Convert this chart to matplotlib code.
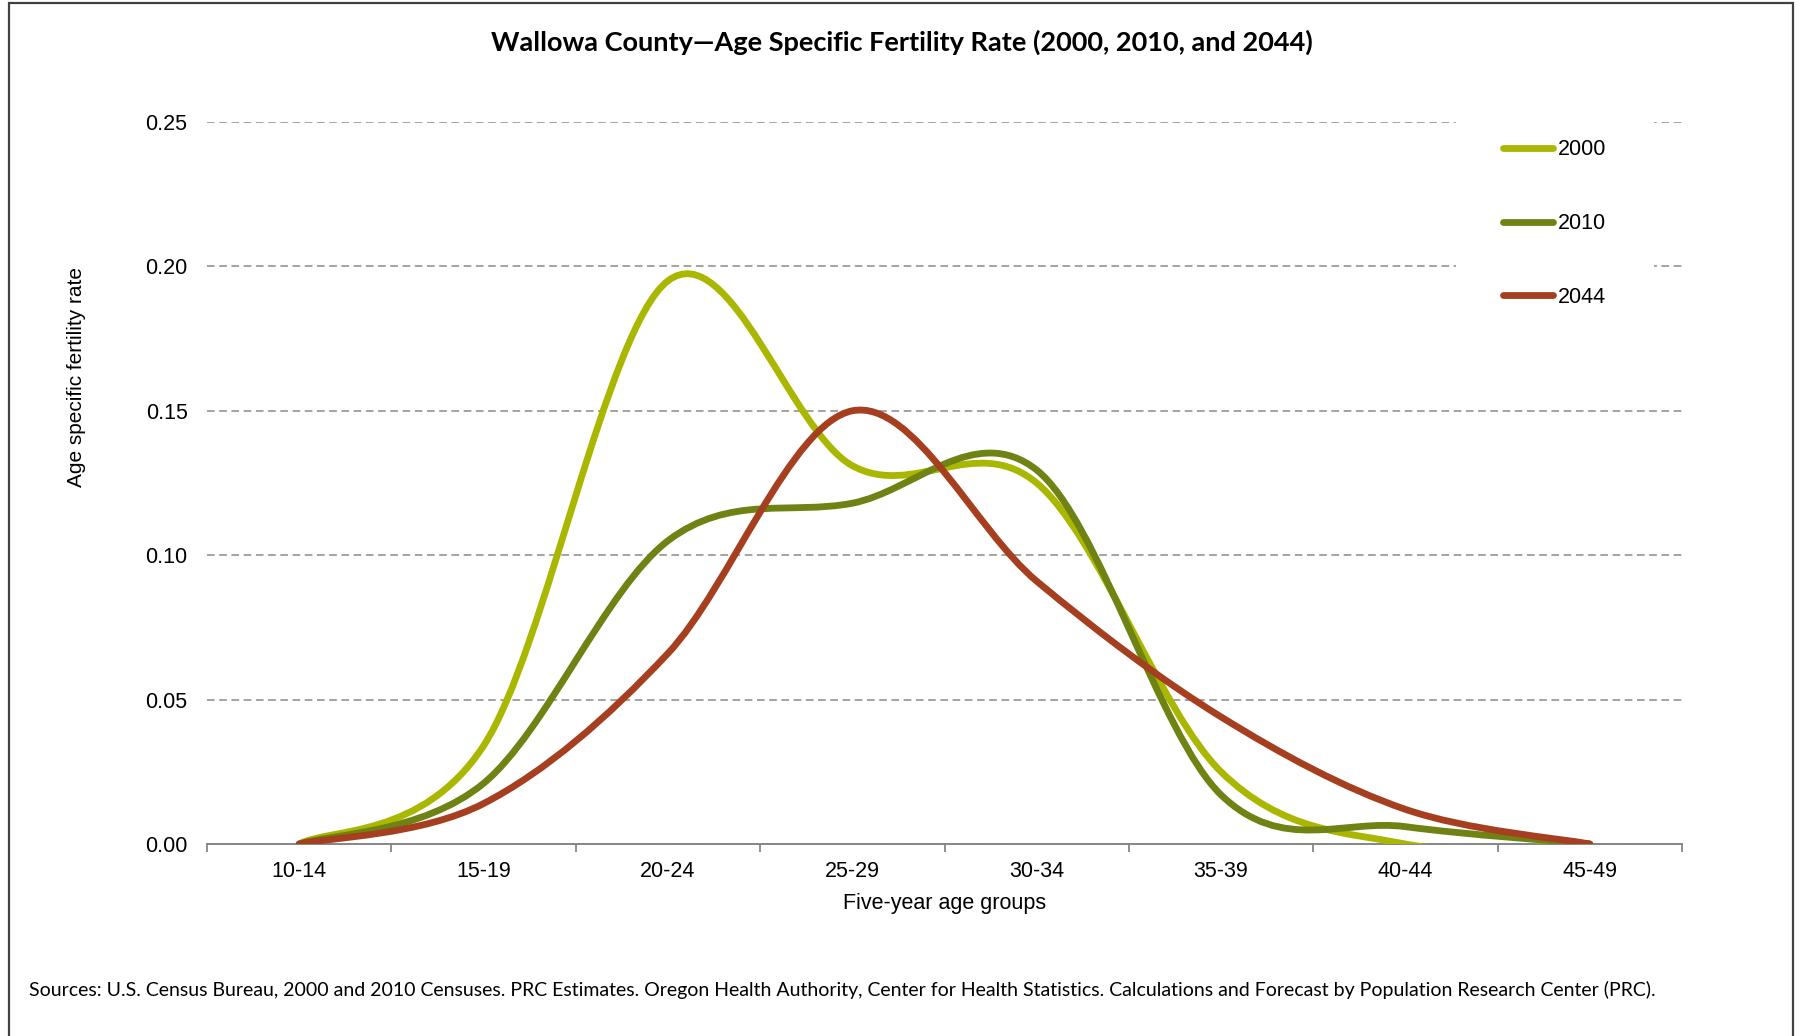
import matplotlib.pyplot as plt
import numpy as np
from matplotlib.path import Path
from matplotlib.patches import PathPatch, Rectangle
from matplotlib.lines import Line2D

age_groups = ["10-14", "15-19", "20-24", "25-29", "30-34", "35-39", "40-44", "45-49"]
years = ["2000", "2010", "2044"]
asfr_2000 = [0.000, 0.034, 0.195, 0.131, 0.125, 0.025, 0.000, 0.000]
asfr_2010 = [0.000, 0.021, 0.105, 0.118, 0.1295, 0.017, 0.006, 0.000]
asfr_2044 = [0.000, 0.014, 0.066, 0.150, 0.091, 0.044, 0.012, 0.000]
colors = ["#AAB700", "#6E8314", "#A53F1F"]

plt.rcParams['font.family'] = ['Liberation Sans', 'DejaVu Sans']
fs = 15.5


def smooth_path(ys):
    # excel-style smoothed line: cubic bezier through every point
    pts = np.column_stack([np.arange(len(ys)), ys]).astype(float)
    verts = [pts[0]]
    codes = [Path.MOVETO]
    n = len(pts)
    for i in range(n - 1):
        p_prev = pts[max(i - 1, 0)]
        p0, p1 = pts[i], pts[i + 1]
        p_next = pts[min(i + 2, n - 1)]
        c1 = p0 + (p1 - p_prev) / 6
        c2 = p1 - (p_next - p0) / 6
        verts += [c1, c2, p1]
        codes += [Path.CURVE4] * 3
    return Path(verts, codes)


fig = plt.figure(figsize=(18.01, 10.36), dpi=100)
ax = fig.add_axes([207 / 1801, 1 - 844 / 1036, (1682 - 207) / 1801, (844 - 122) / 1036])

handles = []
for year, ys, c in zip(years, [asfr_2000, asfr_2010, asfr_2044], colors):
    patch = PathPatch(smooth_path(ys), facecolor='none', edgecolor=c, linewidth=4.9,
                      capstyle='round', joinstyle='round', zorder=3)
    ax.add_patch(patch)
    handles.append(Line2D([], [], color=c, linewidth=4.9, solid_capstyle='round'))

ax.set_xlim(-0.5, len(age_groups) - 0.5)
ax.set_ylim(0, 0.25)
ax.set_yticks(np.arange(0, 0.26, 0.05))
ax.set_yticklabels([f"{v:.2f}" for v in np.arange(0, 0.26, 0.05)])
ax.set_xticks(np.arange(len(age_groups)))
ax.set_xticklabels(age_groups)
ax.set_xticks(np.arange(-0.5, len(age_groups)), minor=True)
ax.tick_params(axis='x', which='major', length=0, pad=12, labelsize=fs)
ax.tick_params(axis='x', which='minor', length=6, width=1.3, color='#868686', direction='out')
ax.tick_params(axis='y', length=0, pad=14, labelsize=fs)

for s in ['top', 'right', 'left']:
    ax.spines[s].set_visible(False)
ax.spines['bottom'].set_color('#868686')
ax.spines['bottom'].set_linewidth(1.4)

ax.yaxis.grid(True, color='#8a8a8a', linestyle=(0, (5, 3)), linewidth=1.1)
ax.set_axisbelow(True)

ax.set_xlabel("Five-year age groups", fontsize=fs, labelpad=8)
fig.text(77 / 1801, 1 - 377 / 1036, "Age specific fertility rate", rotation=90,
         fontsize=15, ha='center', va='center')

leg = ax.legend(handles, years, loc='upper left', bbox_to_anchor=(1456 / 1801, 1 - 92 / 1036),
                bbox_transform=fig.transFigure, borderaxespad=0, fontsize=fs,
                frameon=True, fancybox=False, framealpha=1, edgecolor='none',
                facecolor='white', handlelength=2.3, handletextpad=0.25,
                labelspacing=2.45, borderpad=2.2)
leg.set_zorder(5)

fig.text(0.5 * (428 + 1142) * 1.1486 / 1801, 1 - 42 / 1036,
         "Wallowa County\u2014Age Specific Fertility Rate (2000, 2010, and 2044)",
         fontsize=19.5, fontweight='bold', family=['Lato', 'DejaVu Sans'],
         ha='center', va='center')
fig.text(29 / 1801, 1 - 990 / 1036,
         "Sources: U.S. Census Bureau, 2000 and 2010 Censuses. PRC Estimates. Oregon Health Authority, "
         "Center for Health Statistics. Calculations and Forecast by Population Research Center (PRC).",
         fontsize=14, family=['Lato', 'DejaVu Sans'], ha='left', va='center')

fig.add_artist(Rectangle((9 / 1801, -0.1), (1793 - 9) / 1801, 1.1 - 3 / 1036,
                         transform=fig.transFigure, fill=False, edgecolor='#404040', linewidth=1.6))

plt.savefig("out.png", dpi=100)
